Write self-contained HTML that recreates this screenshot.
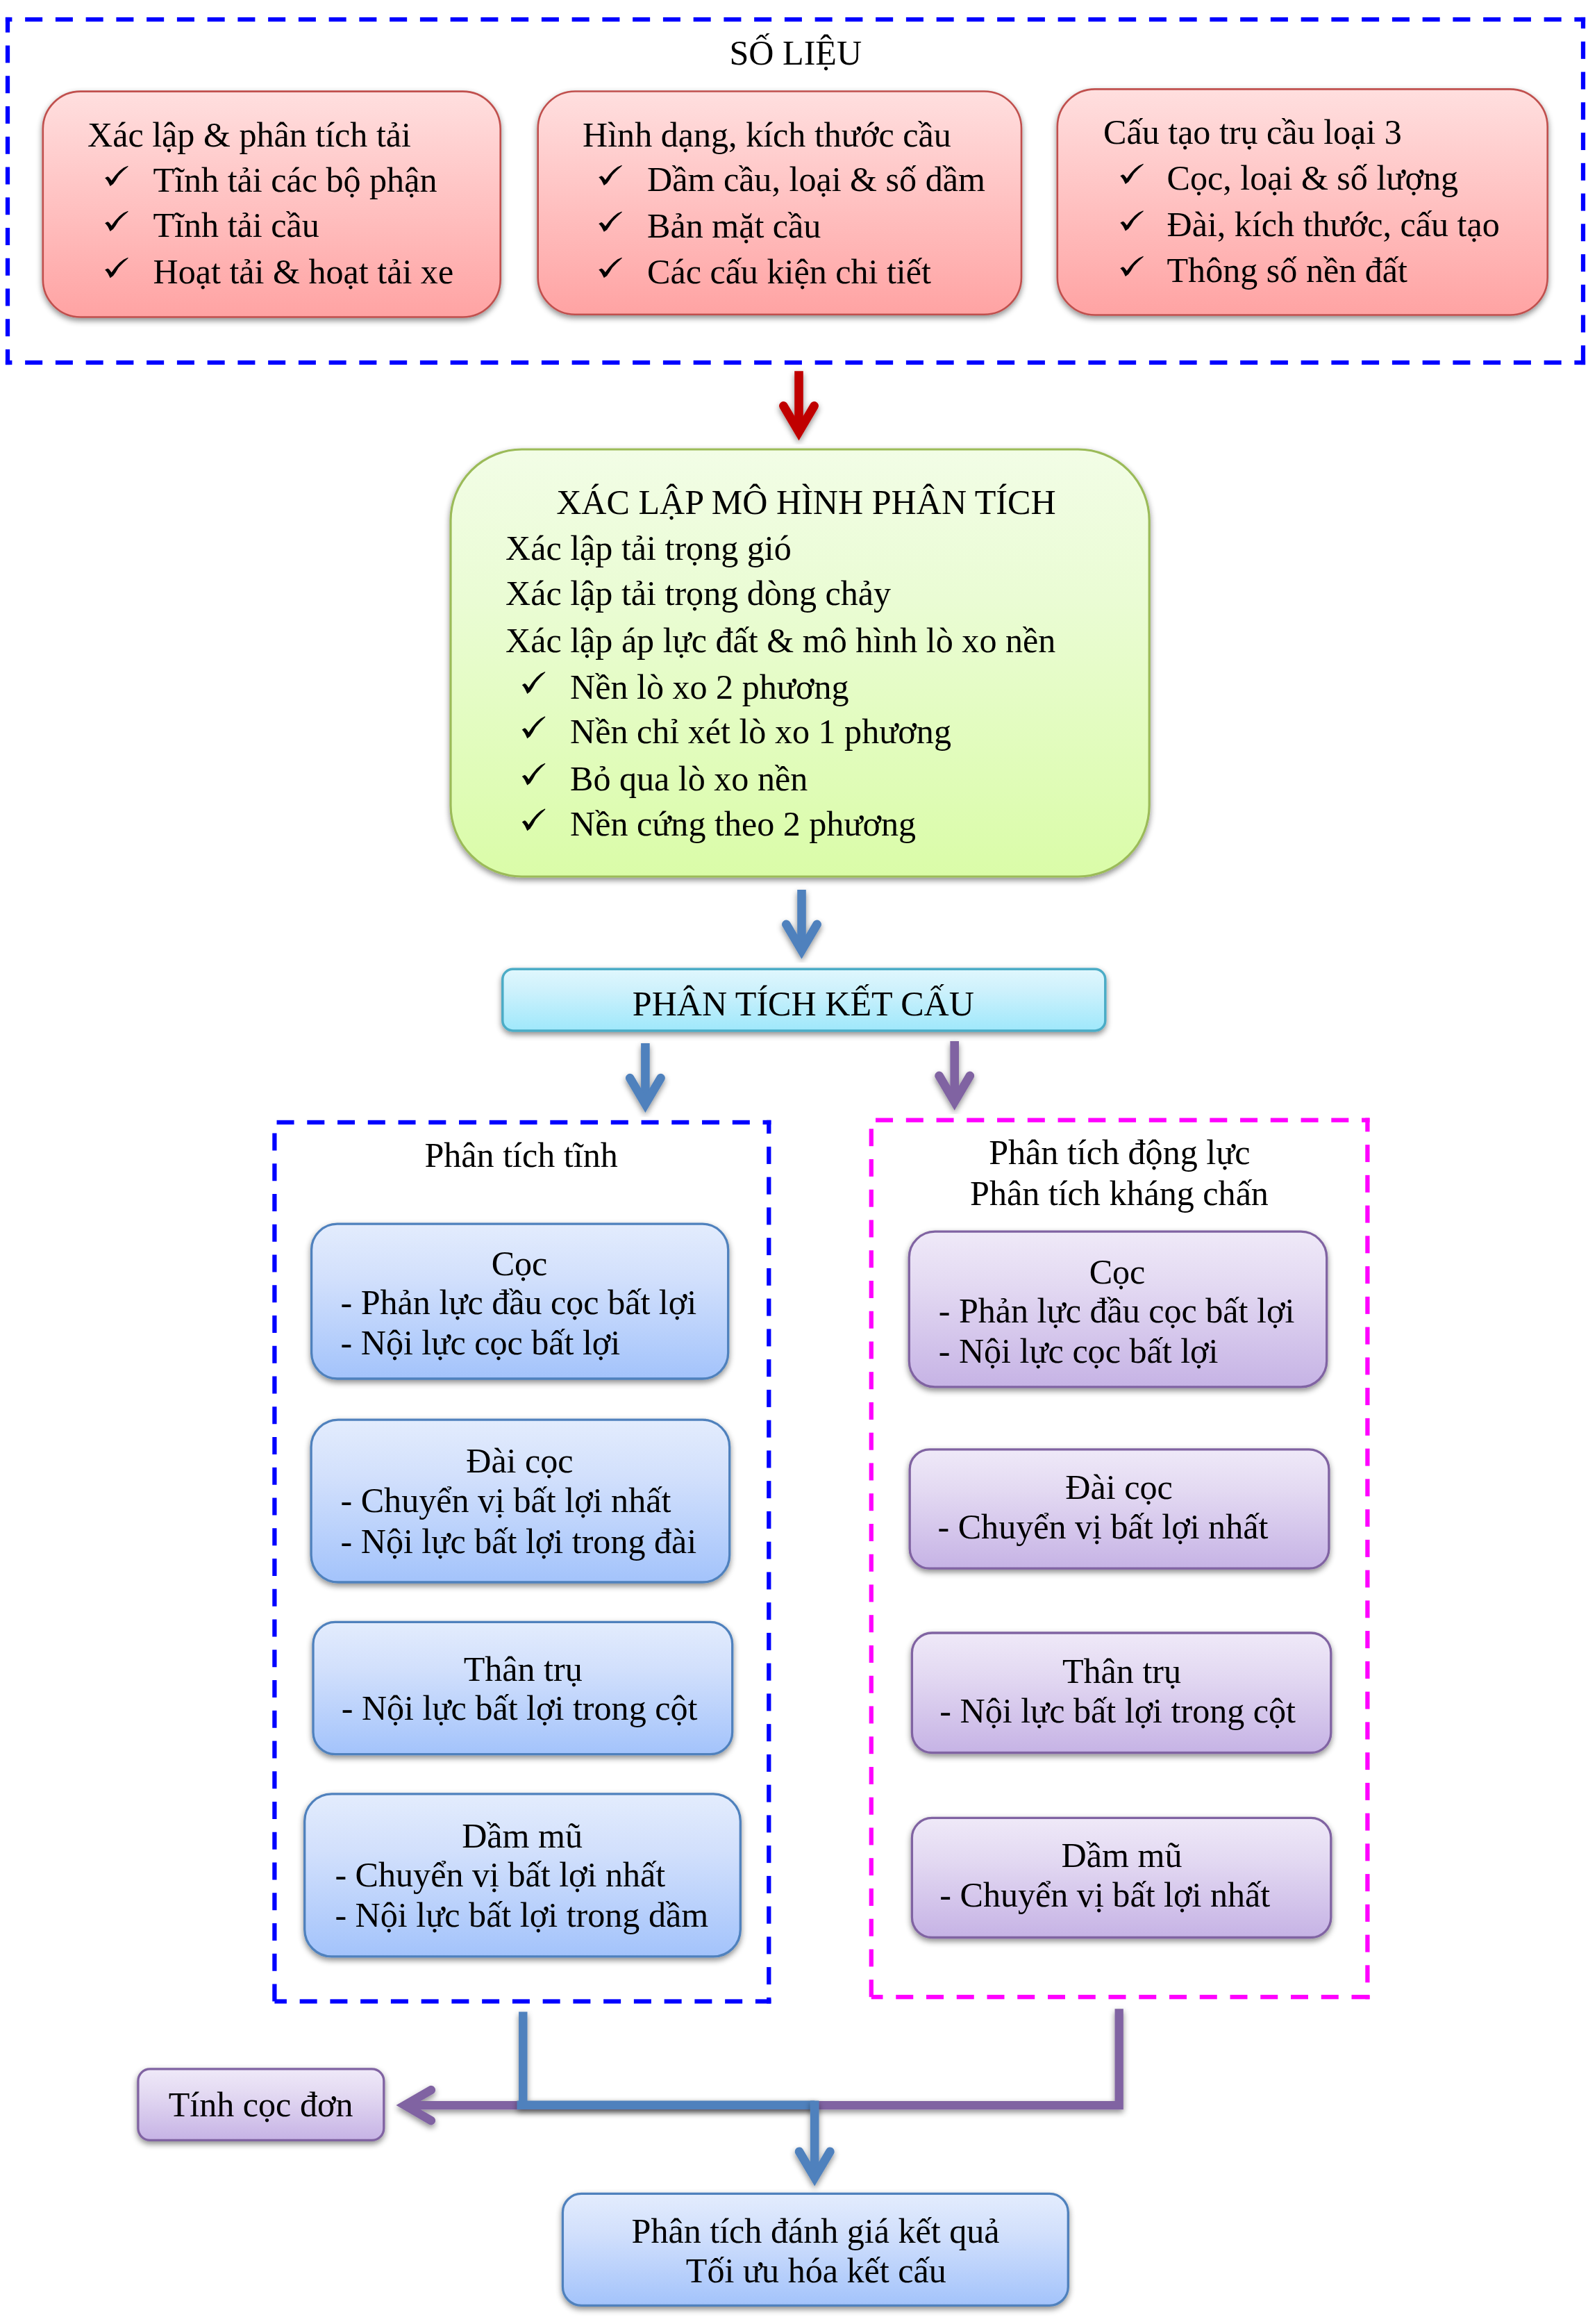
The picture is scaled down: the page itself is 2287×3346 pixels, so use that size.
<!DOCTYPE html><html><head><meta charset="utf-8"><title>diagram</title><style>
html,body{margin:0;padding:0;background:#fff;overflow:hidden}svg{display:block}
text{font-family:"Liberation Serif",serif;font-size:50.1px;fill:#000}
</style></head><body>
<svg width="2287" height="3346" viewBox="0 0 2287 3346">
<defs>
<linearGradient id="gr" x1="0" y1="0" x2="0" y2="1">
<stop offset="0" stop-color="#ffdfdf"/>
<stop offset="0.35" stop-color="#ffcaca"/>
<stop offset="1" stop-color="#ffa3a3"/>
</linearGradient>
<linearGradient id="gg" x1="0" y1="0" x2="0" y2="1">
<stop offset="0" stop-color="#f2fde6"/>
<stop offset="0.35" stop-color="#eafcd4"/>
<stop offset="1" stop-color="#dafca8"/>
</linearGradient>
<linearGradient id="gc" x1="0" y1="0" x2="0" y2="1">
<stop offset="0" stop-color="#e0f7fd"/>
<stop offset="0.35" stop-color="#cdf1fc"/>
<stop offset="1" stop-color="#9fe8fb"/>
</linearGradient>
<linearGradient id="gb" x1="0" y1="0" x2="0" y2="1">
<stop offset="0" stop-color="#e3ecfd"/>
<stop offset="0.35" stop-color="#d2e0fc"/>
<stop offset="1" stop-color="#a3c3fb"/>
</linearGradient>
<linearGradient id="gp" x1="0" y1="0" x2="0" y2="1">
<stop offset="0" stop-color="#efe9f8"/>
<stop offset="0.35" stop-color="#e3d9f2"/>
<stop offset="1" stop-color="#c6b3e5"/>
</linearGradient>
<filter id="sh" x="-10%" y="-10%" width="120%" height="130%"><feDropShadow dx="0" dy="4" stdDeviation="4.5" flood-color="#000" flood-opacity="0.45"/></filter>
<filter id="ash" x="-50%" y="-10%" width="200%" height="130%"><feDropShadow dx="0" dy="4" stdDeviation="4.5" flood-color="#000" flood-opacity="0.45"/></filter>
<filter id="lsh" x="-5%" y="-100%" width="110%" height="400%"><feDropShadow dx="0" dy="4" stdDeviation="4.5" flood-color="#000" flood-opacity="0.45"/></filter>
</defs>
<rect width="2287" height="3346" fill="#fff"/>
<g fill="#0000ff"><rect x="7.88" y="24.88" width="9.52" height="6.25"/><rect x="36.15" y="24.88" width="25" height="6.25"/><rect x="79.9" y="24.88" width="25" height="6.25"/><rect x="123.65" y="24.88" width="25" height="6.25"/><rect x="167.4" y="24.88" width="25" height="6.25"/><rect x="211.15" y="24.88" width="25" height="6.25"/><rect x="254.9" y="24.88" width="25" height="6.25"/><rect x="298.65" y="24.88" width="25" height="6.25"/><rect x="342.4" y="24.88" width="25" height="6.25"/><rect x="386.15" y="24.88" width="25" height="6.25"/><rect x="429.9" y="24.88" width="25" height="6.25"/><rect x="473.65" y="24.88" width="25" height="6.25"/><rect x="517.4" y="24.88" width="25" height="6.25"/><rect x="561.15" y="24.88" width="25" height="6.25"/><rect x="604.9" y="24.88" width="25" height="6.25"/><rect x="648.65" y="24.88" width="25" height="6.25"/><rect x="692.4" y="24.88" width="25" height="6.25"/><rect x="736.15" y="24.88" width="25" height="6.25"/><rect x="779.9" y="24.88" width="25" height="6.25"/><rect x="823.65" y="24.88" width="25" height="6.25"/><rect x="867.4" y="24.88" width="25" height="6.25"/><rect x="911.15" y="24.88" width="25" height="6.25"/><rect x="954.9" y="24.88" width="25" height="6.25"/><rect x="998.65" y="24.88" width="25" height="6.25"/><rect x="1042.4" y="24.88" width="25" height="6.25"/><rect x="1086.15" y="24.88" width="25" height="6.25"/><rect x="1129.9" y="24.88" width="25" height="6.25"/><rect x="1173.65" y="24.88" width="25" height="6.25"/><rect x="1217.4" y="24.88" width="25" height="6.25"/><rect x="1261.15" y="24.88" width="25" height="6.25"/><rect x="1304.9" y="24.88" width="25" height="6.25"/><rect x="1348.65" y="24.88" width="25" height="6.25"/><rect x="1392.4" y="24.88" width="25" height="6.25"/><rect x="1436.15" y="24.88" width="25" height="6.25"/><rect x="1479.9" y="24.88" width="25" height="6.25"/><rect x="1523.65" y="24.88" width="25" height="6.25"/><rect x="1567.4" y="24.88" width="25" height="6.25"/><rect x="1611.15" y="24.88" width="25" height="6.25"/><rect x="1654.9" y="24.88" width="25" height="6.25"/><rect x="1698.65" y="24.88" width="25" height="6.25"/><rect x="1742.4" y="24.88" width="25" height="6.25"/><rect x="1786.15" y="24.88" width="25" height="6.25"/><rect x="1829.9" y="24.88" width="25" height="6.25"/><rect x="1873.65" y="24.88" width="25" height="6.25"/><rect x="1917.4" y="24.88" width="25" height="6.25"/><rect x="1961.15" y="24.88" width="25" height="6.25"/><rect x="2004.9" y="24.88" width="25" height="6.25"/><rect x="2048.65" y="24.88" width="25" height="6.25"/><rect x="2092.4" y="24.88" width="25" height="6.25"/><rect x="2136.15" y="24.88" width="25" height="6.25"/><rect x="2179.9" y="24.88" width="25" height="6.25"/><rect x="2223.65" y="24.88" width="25" height="6.25"/><rect x="2267.4" y="24.88" width="15.72" height="6.25"/><rect x="7.88" y="518.88" width="9.52" height="6.25"/><rect x="36.15" y="518.88" width="25" height="6.25"/><rect x="79.9" y="518.88" width="25" height="6.25"/><rect x="123.65" y="518.88" width="25" height="6.25"/><rect x="167.4" y="518.88" width="25" height="6.25"/><rect x="211.15" y="518.88" width="25" height="6.25"/><rect x="254.9" y="518.88" width="25" height="6.25"/><rect x="298.65" y="518.88" width="25" height="6.25"/><rect x="342.4" y="518.88" width="25" height="6.25"/><rect x="386.15" y="518.88" width="25" height="6.25"/><rect x="429.9" y="518.88" width="25" height="6.25"/><rect x="473.65" y="518.88" width="25" height="6.25"/><rect x="517.4" y="518.88" width="25" height="6.25"/><rect x="561.15" y="518.88" width="25" height="6.25"/><rect x="604.9" y="518.88" width="25" height="6.25"/><rect x="648.65" y="518.88" width="25" height="6.25"/><rect x="692.4" y="518.88" width="25" height="6.25"/><rect x="736.15" y="518.88" width="25" height="6.25"/><rect x="779.9" y="518.88" width="25" height="6.25"/><rect x="823.65" y="518.88" width="25" height="6.25"/><rect x="867.4" y="518.88" width="25" height="6.25"/><rect x="911.15" y="518.88" width="25" height="6.25"/><rect x="954.9" y="518.88" width="25" height="6.25"/><rect x="998.65" y="518.88" width="25" height="6.25"/><rect x="1042.4" y="518.88" width="25" height="6.25"/><rect x="1086.15" y="518.88" width="25" height="6.25"/><rect x="1129.9" y="518.88" width="25" height="6.25"/><rect x="1173.65" y="518.88" width="25" height="6.25"/><rect x="1217.4" y="518.88" width="25" height="6.25"/><rect x="1261.15" y="518.88" width="25" height="6.25"/><rect x="1304.9" y="518.88" width="25" height="6.25"/><rect x="1348.65" y="518.88" width="25" height="6.25"/><rect x="1392.4" y="518.88" width="25" height="6.25"/><rect x="1436.15" y="518.88" width="25" height="6.25"/><rect x="1479.9" y="518.88" width="25" height="6.25"/><rect x="1523.65" y="518.88" width="25" height="6.25"/><rect x="1567.4" y="518.88" width="25" height="6.25"/><rect x="1611.15" y="518.88" width="25" height="6.25"/><rect x="1654.9" y="518.88" width="25" height="6.25"/><rect x="1698.65" y="518.88" width="25" height="6.25"/><rect x="1742.4" y="518.88" width="25" height="6.25"/><rect x="1786.15" y="518.88" width="25" height="6.25"/><rect x="1829.9" y="518.88" width="25" height="6.25"/><rect x="1873.65" y="518.88" width="25" height="6.25"/><rect x="1917.4" y="518.88" width="25" height="6.25"/><rect x="1961.15" y="518.88" width="25" height="6.25"/><rect x="2004.9" y="518.88" width="25" height="6.25"/><rect x="2048.65" y="518.88" width="25" height="6.25"/><rect x="2092.4" y="518.88" width="25" height="6.25"/><rect x="2136.15" y="518.88" width="25" height="6.25"/><rect x="2179.9" y="518.88" width="25" height="6.25"/><rect x="2223.65" y="518.88" width="25" height="6.25"/><rect x="2267.4" y="518.88" width="15.72" height="6.25"/><rect x="7.88" y="24.88" width="6.25" height="21.88"/><rect x="7.88" y="65.5" width="6.25" height="25"/><rect x="7.88" y="109.25" width="6.25" height="25"/><rect x="7.88" y="153" width="6.25" height="25"/><rect x="7.88" y="196.75" width="6.25" height="25"/><rect x="7.88" y="240.5" width="6.25" height="25"/><rect x="7.88" y="284.25" width="6.25" height="25"/><rect x="7.88" y="328" width="6.25" height="25"/><rect x="7.88" y="371.75" width="6.25" height="25"/><rect x="7.88" y="415.5" width="6.25" height="25"/><rect x="7.88" y="459.25" width="6.25" height="25"/><rect x="7.88" y="503" width="6.25" height="22.12"/><rect x="2276.88" y="24.88" width="6.25" height="16.17"/><rect x="2276.88" y="59.8" width="6.25" height="25"/><rect x="2276.88" y="103.55" width="6.25" height="25"/><rect x="2276.88" y="147.3" width="6.25" height="25"/><rect x="2276.88" y="191.05" width="6.25" height="25"/><rect x="2276.88" y="234.8" width="6.25" height="25"/><rect x="2276.88" y="278.55" width="6.25" height="25"/><rect x="2276.88" y="322.3" width="6.25" height="25"/><rect x="2276.88" y="366.05" width="6.25" height="25"/><rect x="2276.88" y="409.8" width="6.25" height="25"/><rect x="2276.88" y="453.55" width="6.25" height="25"/><rect x="2276.88" y="497.3" width="6.25" height="27.82"/></g>
<text x="1145.8" y="93.3" text-anchor="middle">SỐ LIỆU</text>
<rect x="61.8" y="131.6" width="658.9" height="324.9" rx="54.15" ry="54.15" fill="url(#gr)" stroke="#c0504d" stroke-width="2.6" filter="url(#sh)"/>
<rect x="774.7" y="131.5" width="696.3" height="321.3" rx="53.55" ry="53.55" fill="url(#gr)" stroke="#c0504d" stroke-width="2.6" filter="url(#sh)"/>
<rect x="1522.8" y="128.4" width="705.9" height="325.1" rx="54.18" ry="54.18" fill="url(#gr)" stroke="#c0504d" stroke-width="2.6" filter="url(#sh)"/>
<text x="126" y="210.5">Xác lập &amp; phân tích tải</text>
<path transform="translate(151 256.5) scale(1 0.92)" d="M0 0 L2.3 -1.6 L4.3 -2.4 L6.4 -0.7 L8.1 1.6 L9.6 3.8 L14.7 -3.7 L21.2 -11.3 L27 -16.3 L33.3 -19.4 L33.6 -18.3 L26.5 -11.3 L19.7 -3.7 L15.5 3.8 L12.9 7.6 L12.1 9.1 L7.6 12.5 L6.1 9.1 L4.2 5 L1.5 1.2 Z" fill="#000"/>
<text x="220.5" y="275.8">Tĩnh tải các bộ phận</text>
<path transform="translate(151 321.5) scale(1 0.92)" d="M0 0 L2.3 -1.6 L4.3 -2.4 L6.4 -0.7 L8.1 1.6 L9.6 3.8 L14.7 -3.7 L21.2 -11.3 L27 -16.3 L33.3 -19.4 L33.6 -18.3 L26.5 -11.3 L19.7 -3.7 L15.5 3.8 L12.9 7.6 L12.1 9.1 L7.6 12.5 L6.1 9.1 L4.2 5 L1.5 1.2 Z" fill="#000"/>
<text x="220.5" y="340.8">Tĩnh tải cầu</text>
<path transform="translate(151 388.7) scale(1 0.92)" d="M0 0 L2.3 -1.6 L4.3 -2.4 L6.4 -0.7 L8.1 1.6 L9.6 3.8 L14.7 -3.7 L21.2 -11.3 L27 -16.3 L33.3 -19.4 L33.6 -18.3 L26.5 -11.3 L19.7 -3.7 L15.5 3.8 L12.9 7.6 L12.1 9.1 L7.6 12.5 L6.1 9.1 L4.2 5 L1.5 1.2 Z" fill="#000"/>
<text x="220.5" y="408">Hoạt tải &amp; hoạt tải xe</text>
<text x="839" y="210.6">Hình dạng, kích thước cầu</text>
<path transform="translate(862.2 255.5) scale(1 0.92)" d="M0 0 L2.3 -1.6 L4.3 -2.4 L6.4 -0.7 L8.1 1.6 L9.6 3.8 L14.7 -3.7 L21.2 -11.3 L27 -16.3 L33.3 -19.4 L33.6 -18.3 L26.5 -11.3 L19.7 -3.7 L15.5 3.8 L12.9 7.6 L12.1 9.1 L7.6 12.5 L6.1 9.1 L4.2 5 L1.5 1.2 Z" fill="#000"/>
<text x="932" y="274.8">Dầm cầu, loại &amp; số dầm</text>
<path transform="translate(862.2 322.3) scale(1 0.92)" d="M0 0 L2.3 -1.6 L4.3 -2.4 L6.4 -0.7 L8.1 1.6 L9.6 3.8 L14.7 -3.7 L21.2 -11.3 L27 -16.3 L33.3 -19.4 L33.6 -18.3 L26.5 -11.3 L19.7 -3.7 L15.5 3.8 L12.9 7.6 L12.1 9.1 L7.6 12.5 L6.1 9.1 L4.2 5 L1.5 1.2 Z" fill="#000"/>
<text x="932" y="341.6">Bản mặt cầu</text>
<path transform="translate(862.2 388.6) scale(1 0.92)" d="M0 0 L2.3 -1.6 L4.3 -2.4 L6.4 -0.7 L8.1 1.6 L9.6 3.8 L14.7 -3.7 L21.2 -11.3 L27 -16.3 L33.3 -19.4 L33.6 -18.3 L26.5 -11.3 L19.7 -3.7 L15.5 3.8 L12.9 7.6 L12.1 9.1 L7.6 12.5 L6.1 9.1 L4.2 5 L1.5 1.2 Z" fill="#000"/>
<text x="932" y="407.9">Các cấu kiện chi tiết</text>
<text x="1589" y="207.3">Cấu tạo trụ cầu loại 3</text>
<path transform="translate(1613.2 253.5) scale(1 0.92)" d="M0 0 L2.3 -1.6 L4.3 -2.4 L6.4 -0.7 L8.1 1.6 L9.6 3.8 L14.7 -3.7 L21.2 -11.3 L27 -16.3 L33.3 -19.4 L33.6 -18.3 L26.5 -11.3 L19.7 -3.7 L15.5 3.8 L12.9 7.6 L12.1 9.1 L7.6 12.5 L6.1 9.1 L4.2 5 L1.5 1.2 Z" fill="#000"/>
<text x="1680.5" y="272.8">Cọc, loại &amp; số lượng</text>
<path transform="translate(1613.2 321) scale(1 0.92)" d="M0 0 L2.3 -1.6 L4.3 -2.4 L6.4 -0.7 L8.1 1.6 L9.6 3.8 L14.7 -3.7 L21.2 -11.3 L27 -16.3 L33.3 -19.4 L33.6 -18.3 L26.5 -11.3 L19.7 -3.7 L15.5 3.8 L12.9 7.6 L12.1 9.1 L7.6 12.5 L6.1 9.1 L4.2 5 L1.5 1.2 Z" fill="#000"/>
<text x="1680.5" y="340.3">Đài, kích thước, cấu tạo</text>
<path transform="translate(1613.2 386.5) scale(1 0.92)" d="M0 0 L2.3 -1.6 L4.3 -2.4 L6.4 -0.7 L8.1 1.6 L9.6 3.8 L14.7 -3.7 L21.2 -11.3 L27 -16.3 L33.3 -19.4 L33.6 -18.3 L26.5 -11.3 L19.7 -3.7 L15.5 3.8 L12.9 7.6 L12.1 9.1 L7.6 12.5 L6.1 9.1 L4.2 5 L1.5 1.2 Z" fill="#000"/>
<text x="1680.5" y="405.8">Thông số nền đất</text>
<g filter="url(#ash)" stroke="#c00000" fill="none" stroke-width="12.6">
<path d="M1150.5 534.2 V615.78" stroke-linecap="butt"/>
<path d="M1128.3 584.3 L1150.5 621.78 L1172.7 584.3" stroke-linecap="round" stroke-linejoin="miter" stroke-miterlimit="10"/>
</g>
<rect x="649" y="647" width="1006.2" height="615" rx="102.5" ry="102.5" fill="url(#gg)" stroke="#9bbb59" stroke-width="3.2" filter="url(#sh)"/>
<text x="1160.9" y="739.5" text-anchor="middle">XÁC LẬP MÔ HÌNH PHÂN TÍCH</text>
<text x="728" y="805.7">Xác lập tải trọng gió</text>
<text x="728" y="871.2">Xác lập tải trọng dòng chảy</text>
<text x="728" y="938.6">Xác lập áp lực đất &amp; mô hình lò xo nền</text>
<path transform="translate(751.7 986.4)" d="M0 0 L2.3 -1.6 L4.3 -2.4 L6.4 -0.7 L8.1 1.6 L9.6 3.8 L14.7 -3.7 L21.2 -11.3 L27 -16.3 L33.3 -19.4 L33.6 -18.3 L26.5 -11.3 L19.7 -3.7 L15.5 3.8 L12.9 7.6 L12.1 9.1 L7.6 12.5 L6.1 9.1 L4.2 5 L1.5 1.2 Z" fill="#000"/>
<text x="821" y="1006">Nền lò xo 2 phương</text>
<path transform="translate(751.7 1050.7)" d="M0 0 L2.3 -1.6 L4.3 -2.4 L6.4 -0.7 L8.1 1.6 L9.6 3.8 L14.7 -3.7 L21.2 -11.3 L27 -16.3 L33.3 -19.4 L33.6 -18.3 L26.5 -11.3 L19.7 -3.7 L15.5 3.8 L12.9 7.6 L12.1 9.1 L7.6 12.5 L6.1 9.1 L4.2 5 L1.5 1.2 Z" fill="#000"/>
<text x="821" y="1070.3">Nền chỉ xét lò xo 1 phương</text>
<path transform="translate(751.7 1118.1)" d="M0 0 L2.3 -1.6 L4.3 -2.4 L6.4 -0.7 L8.1 1.6 L9.6 3.8 L14.7 -3.7 L21.2 -11.3 L27 -16.3 L33.3 -19.4 L33.6 -18.3 L26.5 -11.3 L19.7 -3.7 L15.5 3.8 L12.9 7.6 L12.1 9.1 L7.6 12.5 L6.1 9.1 L4.2 5 L1.5 1.2 Z" fill="#000"/>
<text x="821" y="1137.7">Bỏ qua lò xo nền</text>
<path transform="translate(751.7 1183.7)" d="M0 0 L2.3 -1.6 L4.3 -2.4 L6.4 -0.7 L8.1 1.6 L9.6 3.8 L14.7 -3.7 L21.2 -11.3 L27 -16.3 L33.3 -19.4 L33.6 -18.3 L26.5 -11.3 L19.7 -3.7 L15.5 3.8 L12.9 7.6 L12.1 9.1 L7.6 12.5 L6.1 9.1 L4.2 5 L1.5 1.2 Z" fill="#000"/>
<text x="821" y="1203.3">Nền cứng theo 2 phương</text>
<g filter="url(#ash)" stroke="#4f81bd" fill="none" stroke-width="12.6">
<path d="M1154.5 1281.1 V1362.28" stroke-linecap="butt"/>
<path d="M1132.3 1330.8 L1154.5 1368.28 L1176.7 1330.8" stroke-linecap="round" stroke-linejoin="miter" stroke-miterlimit="10"/>
</g>
<rect x="723.8" y="1395.3" width="868" height="88.6" rx="14.77" ry="14.77" fill="url(#gc)" stroke="#4bacc6" stroke-width="3.5" filter="url(#sh)"/>
<text x="1156.9" y="1461.6" text-anchor="middle">PHÂN TÍCH KẾT CẤU</text>
<g filter="url(#ash)" stroke="#4f81bd" fill="none" stroke-width="12.6">
<path d="M929.4 1501.9 V1583.58" stroke-linecap="butt"/>
<path d="M907.2 1552.1 L929.4 1589.58 L951.6 1552.1" stroke-linecap="round" stroke-linejoin="miter" stroke-miterlimit="10"/>
</g>
<g filter="url(#ash)" stroke="#8064a2" fill="none" stroke-width="12.6">
<path d="M1374.7 1498.9 V1580.28" stroke-linecap="butt"/>
<path d="M1352.5 1548.8 L1374.7 1586.28 L1396.9 1548.8" stroke-linecap="round" stroke-linejoin="miter" stroke-miterlimit="10"/>
</g>
<g fill="#0000ff"><rect x="392.27" y="2856.5" width="6.25" height="25"/><rect x="392.27" y="2812.75" width="6.25" height="25"/><rect x="392.27" y="2769" width="6.25" height="25"/><rect x="392.27" y="2725.25" width="6.25" height="25"/><rect x="392.27" y="2681.5" width="6.25" height="25"/><rect x="392.27" y="2637.75" width="6.25" height="25"/><rect x="392.27" y="2594" width="6.25" height="25"/><rect x="392.27" y="2550.25" width="6.25" height="25"/><rect x="392.27" y="2506.5" width="6.25" height="25"/><rect x="392.27" y="2462.75" width="6.25" height="25"/><rect x="392.27" y="2419" width="6.25" height="25"/><rect x="392.27" y="2375.25" width="6.25" height="25"/><rect x="392.27" y="2331.5" width="6.25" height="25"/><rect x="392.27" y="2287.75" width="6.25" height="25"/><rect x="392.27" y="2244" width="6.25" height="25"/><rect x="392.27" y="2200.25" width="6.25" height="25"/><rect x="392.27" y="2156.5" width="6.25" height="25"/><rect x="392.27" y="2112.75" width="6.25" height="25"/><rect x="392.27" y="2069" width="6.25" height="25"/><rect x="392.27" y="2025.25" width="6.25" height="25"/><rect x="392.27" y="1981.5" width="6.25" height="25"/><rect x="392.27" y="1937.75" width="6.25" height="25"/><rect x="392.27" y="1894" width="6.25" height="25"/><rect x="392.27" y="1850.25" width="6.25" height="25"/><rect x="392.27" y="1806.5" width="6.25" height="25"/><rect x="392.27" y="1762.75" width="6.25" height="25"/><rect x="392.27" y="1719" width="6.25" height="25"/><rect x="392.27" y="1675.25" width="6.25" height="25"/><rect x="392.27" y="1631.5" width="6.25" height="25"/><rect x="398.55" y="1612.78" width="25" height="6.25"/><rect x="442.3" y="1612.78" width="25" height="6.25"/><rect x="486.05" y="1612.78" width="25" height="6.25"/><rect x="529.8" y="1612.78" width="25" height="6.25"/><rect x="573.55" y="1612.78" width="25" height="6.25"/><rect x="617.3" y="1612.78" width="25" height="6.25"/><rect x="661.05" y="1612.78" width="25" height="6.25"/><rect x="704.8" y="1612.78" width="25" height="6.25"/><rect x="748.55" y="1612.78" width="25" height="6.25"/><rect x="792.3" y="1612.78" width="25" height="6.25"/><rect x="836.05" y="1612.78" width="25" height="6.25"/><rect x="879.8" y="1612.78" width="25" height="6.25"/><rect x="923.55" y="1612.78" width="25" height="6.25"/><rect x="967.3" y="1612.78" width="25" height="6.25"/><rect x="1011.05" y="1612.78" width="25" height="6.25"/><rect x="1054.8" y="1612.78" width="25" height="6.25"/><rect x="1098.55" y="1612.78" width="11.87" height="6.25"/><rect x="1104.17" y="1612.78" width="6.25" height="19.38"/><rect x="1104.17" y="1650.9" width="6.25" height="25"/><rect x="1104.17" y="1694.65" width="6.25" height="25"/><rect x="1104.17" y="1738.4" width="6.25" height="25"/><rect x="1104.17" y="1782.15" width="6.25" height="25"/><rect x="1104.17" y="1825.9" width="6.25" height="25"/><rect x="1104.17" y="1869.65" width="6.25" height="25"/><rect x="1104.17" y="1913.4" width="6.25" height="25"/><rect x="1104.17" y="1957.15" width="6.25" height="25"/><rect x="1104.17" y="2000.9" width="6.25" height="25"/><rect x="1104.17" y="2044.65" width="6.25" height="25"/><rect x="1104.17" y="2088.4" width="6.25" height="25"/><rect x="1104.17" y="2132.15" width="6.25" height="25"/><rect x="1104.17" y="2175.9" width="6.25" height="25"/><rect x="1104.17" y="2219.65" width="6.25" height="25"/><rect x="1104.17" y="2263.4" width="6.25" height="25"/><rect x="1104.17" y="2307.15" width="6.25" height="25"/><rect x="1104.17" y="2350.9" width="6.25" height="25"/><rect x="1104.17" y="2394.65" width="6.25" height="25"/><rect x="1104.17" y="2438.4" width="6.25" height="25"/><rect x="1104.17" y="2482.15" width="6.25" height="25"/><rect x="1104.17" y="2525.9" width="6.25" height="25"/><rect x="1104.17" y="2569.65" width="6.25" height="25"/><rect x="1104.17" y="2613.4" width="6.25" height="25"/><rect x="1104.17" y="2657.15" width="6.25" height="25"/><rect x="1104.17" y="2700.9" width="6.25" height="25"/><rect x="1104.17" y="2744.65" width="6.25" height="25"/><rect x="1104.17" y="2788.4" width="6.25" height="25"/><rect x="1104.17" y="2832.15" width="6.25" height="25"/><rect x="1104.17" y="2875.9" width="6.25" height="8.72"/><rect x="1087.9" y="2878.38" width="22.53" height="6.25"/><rect x="1044.15" y="2878.38" width="25" height="6.25"/><rect x="1000.4" y="2878.38" width="25" height="6.25"/><rect x="956.65" y="2878.38" width="25" height="6.25"/><rect x="912.9" y="2878.38" width="25" height="6.25"/><rect x="869.15" y="2878.38" width="25" height="6.25"/><rect x="825.4" y="2878.38" width="25" height="6.25"/><rect x="781.65" y="2878.38" width="25" height="6.25"/><rect x="737.9" y="2878.38" width="25" height="6.25"/><rect x="694.15" y="2878.38" width="25" height="6.25"/><rect x="650.4" y="2878.38" width="25" height="6.25"/><rect x="606.65" y="2878.38" width="25" height="6.25"/><rect x="562.9" y="2878.38" width="25" height="6.25"/><rect x="519.15" y="2878.38" width="25" height="6.25"/><rect x="475.4" y="2878.38" width="25" height="6.25"/><rect x="431.65" y="2878.38" width="25" height="6.25"/><rect x="395.4" y="2878.38" width="17.5" height="6.25"/></g>
<g fill="#ff00ff"><rect x="1251.67" y="2850.2" width="6.25" height="25"/><rect x="1251.67" y="2806.45" width="6.25" height="25"/><rect x="1251.67" y="2762.7" width="6.25" height="25"/><rect x="1251.67" y="2718.95" width="6.25" height="25"/><rect x="1251.67" y="2675.2" width="6.25" height="25"/><rect x="1251.67" y="2631.45" width="6.25" height="25"/><rect x="1251.67" y="2587.7" width="6.25" height="25"/><rect x="1251.67" y="2543.95" width="6.25" height="25"/><rect x="1251.67" y="2500.2" width="6.25" height="25"/><rect x="1251.67" y="2456.45" width="6.25" height="25"/><rect x="1251.67" y="2412.7" width="6.25" height="25"/><rect x="1251.67" y="2368.95" width="6.25" height="25"/><rect x="1251.67" y="2325.2" width="6.25" height="25"/><rect x="1251.67" y="2281.45" width="6.25" height="25"/><rect x="1251.67" y="2237.7" width="6.25" height="25"/><rect x="1251.67" y="2193.95" width="6.25" height="25"/><rect x="1251.67" y="2150.2" width="6.25" height="25"/><rect x="1251.67" y="2106.45" width="6.25" height="25"/><rect x="1251.67" y="2062.7" width="6.25" height="25"/><rect x="1251.67" y="2018.95" width="6.25" height="25"/><rect x="1251.67" y="1975.2" width="6.25" height="25"/><rect x="1251.67" y="1931.45" width="6.25" height="25"/><rect x="1251.67" y="1887.7" width="6.25" height="25"/><rect x="1251.67" y="1843.95" width="6.25" height="25"/><rect x="1251.67" y="1800.2" width="6.25" height="25"/><rect x="1251.67" y="1756.45" width="6.25" height="25"/><rect x="1251.67" y="1712.7" width="6.25" height="25"/><rect x="1251.67" y="1668.95" width="6.25" height="25"/><rect x="1251.67" y="1625.2" width="6.25" height="25"/><rect x="1261.05" y="1609.58" width="25" height="6.25"/><rect x="1304.8" y="1609.58" width="25" height="6.25"/><rect x="1348.55" y="1609.58" width="25" height="6.25"/><rect x="1392.3" y="1609.58" width="25" height="6.25"/><rect x="1436.05" y="1609.58" width="25" height="6.25"/><rect x="1479.8" y="1609.58" width="25" height="6.25"/><rect x="1523.55" y="1609.58" width="25" height="6.25"/><rect x="1567.3" y="1609.58" width="25" height="6.25"/><rect x="1611.05" y="1609.58" width="25" height="6.25"/><rect x="1654.8" y="1609.58" width="25" height="6.25"/><rect x="1698.55" y="1609.58" width="25" height="6.25"/><rect x="1742.3" y="1609.58" width="25" height="6.25"/><rect x="1786.05" y="1609.58" width="25" height="6.25"/><rect x="1829.8" y="1609.58" width="25" height="6.25"/><rect x="1873.55" y="1609.58" width="25" height="6.25"/><rect x="1917.3" y="1609.58" width="25" height="6.25"/><rect x="1961.05" y="1609.58" width="11.47" height="6.25"/><rect x="1966.28" y="1609.58" width="6.25" height="19.78"/><rect x="1966.28" y="1648.1" width="6.25" height="25"/><rect x="1966.28" y="1691.85" width="6.25" height="25"/><rect x="1966.28" y="1735.6" width="6.25" height="25"/><rect x="1966.28" y="1779.35" width="6.25" height="25"/><rect x="1966.28" y="1823.1" width="6.25" height="25"/><rect x="1966.28" y="1866.85" width="6.25" height="25"/><rect x="1966.28" y="1910.6" width="6.25" height="25"/><rect x="1966.28" y="1954.35" width="6.25" height="25"/><rect x="1966.28" y="1998.1" width="6.25" height="25"/><rect x="1966.28" y="2041.85" width="6.25" height="25"/><rect x="1966.28" y="2085.6" width="6.25" height="25"/><rect x="1966.28" y="2129.35" width="6.25" height="25"/><rect x="1966.28" y="2173.1" width="6.25" height="25"/><rect x="1966.28" y="2216.85" width="6.25" height="25"/><rect x="1966.28" y="2260.6" width="6.25" height="25"/><rect x="1966.28" y="2304.35" width="6.25" height="25"/><rect x="1966.28" y="2348.1" width="6.25" height="25"/><rect x="1966.28" y="2391.85" width="6.25" height="25"/><rect x="1966.28" y="2435.6" width="6.25" height="25"/><rect x="1966.28" y="2479.35" width="6.25" height="25"/><rect x="1966.28" y="2523.1" width="6.25" height="25"/><rect x="1966.28" y="2566.85" width="6.25" height="25"/><rect x="1966.28" y="2610.6" width="6.25" height="25"/><rect x="1966.28" y="2654.35" width="6.25" height="25"/><rect x="1966.28" y="2698.1" width="6.25" height="25"/><rect x="1966.28" y="2741.85" width="6.25" height="25"/><rect x="1966.28" y="2785.6" width="6.25" height="25"/><rect x="1966.28" y="2829.35" width="6.25" height="25"/><rect x="1966.28" y="2873.1" width="6.25" height="5.22"/><rect x="1946.5" y="2872.07" width="26.03" height="6.25"/><rect x="1902.75" y="2872.07" width="25" height="6.25"/><rect x="1859" y="2872.07" width="25" height="6.25"/><rect x="1815.25" y="2872.07" width="25" height="6.25"/><rect x="1771.5" y="2872.07" width="25" height="6.25"/><rect x="1727.75" y="2872.07" width="25" height="6.25"/><rect x="1684" y="2872.07" width="25" height="6.25"/><rect x="1640.25" y="2872.07" width="25" height="6.25"/><rect x="1596.5" y="2872.07" width="25" height="6.25"/><rect x="1552.75" y="2872.07" width="25" height="6.25"/><rect x="1509" y="2872.07" width="25" height="6.25"/><rect x="1465.25" y="2872.07" width="25" height="6.25"/><rect x="1421.5" y="2872.07" width="25" height="6.25"/><rect x="1377.75" y="2872.07" width="25" height="6.25"/><rect x="1334" y="2872.07" width="25" height="6.25"/><rect x="1290.25" y="2872.07" width="25" height="6.25"/><rect x="1254.8" y="2872.07" width="16.7" height="6.25"/></g>
<text x="750.6" y="1680" text-anchor="middle">Phân tích tĩnh</text>
<text x="1612.4" y="1676.4" text-anchor="middle">Phân tích động lực</text>
<text x="1612" y="1734.9" text-anchor="middle">Phân tích kháng chấn</text>
<rect x="448.6" y="1762.2" width="600.1" height="222.8" rx="37.13" ry="37.13" fill="url(#gb)" stroke="#4f81bd" stroke-width="3.3" filter="url(#sh)"/>
<text x="748" y="1836" text-anchor="middle">Cọc</text>
<text x="490.5" y="1892.4">- Phản lực đầu cọc bất lợi</text>
<text x="490.5" y="1950.4">- Nội lực cọc bất lợi</text>
<rect x="448.1" y="2044.2" width="602.6" height="233.8" rx="38.97" ry="38.97" fill="url(#gb)" stroke="#4f81bd" stroke-width="3.3" filter="url(#sh)"/>
<text x="748.4" y="2120" text-anchor="middle">Đài cọc</text>
<text x="490.5" y="2177.2">- Chuyển vị bất lợi nhất</text>
<text x="490.5" y="2235.6">- Nội lực bất lợi trong đài</text>
<rect x="451" y="2335.4" width="603.7" height="190.2" rx="31.7" ry="31.7" fill="url(#gb)" stroke="#4f81bd" stroke-width="3.3" filter="url(#sh)"/>
<text x="753.2" y="2419.6" text-anchor="middle">Thân trụ</text>
<text x="491.7" y="2476.1">- Nội lực bất lợi trong cột</text>
<rect x="438.7" y="2582.9" width="627.6" height="234" rx="39" ry="39" fill="url(#gb)" stroke="#4f81bd" stroke-width="3.3" filter="url(#sh)"/>
<text x="752.1" y="2659.8" text-anchor="middle">Dầm mũ</text>
<text x="482.4" y="2715.9">- Chuyển vị bất lợi nhất</text>
<text x="482.4" y="2774">- Nội lực bất lợi trong dầm</text>
<rect x="1309.3" y="1773.2" width="601.4" height="223.7" rx="37.28" ry="37.28" fill="url(#gp)" stroke="#8064a2" stroke-width="3.3" filter="url(#sh)"/>
<text x="1609" y="1847.7" text-anchor="middle">Cọc</text>
<text x="1351.7" y="1904.2">- Phản lực đầu cọc bất lợi</text>
<text x="1351.7" y="1961.8">- Nội lực cọc bất lợi</text>
<rect x="1310.2" y="2086.9" width="603.7" height="171.3" rx="28.55" ry="28.55" fill="url(#gp)" stroke="#8064a2" stroke-width="3.3" filter="url(#sh)"/>
<text x="1611.5" y="2157.9" text-anchor="middle">Đài cọc</text>
<text x="1350.5" y="2215.1">- Chuyển vị bất lợi nhất</text>
<rect x="1313.4" y="2351" width="603.4" height="172.5" rx="28.75" ry="28.75" fill="url(#gp)" stroke="#8064a2" stroke-width="3.3" filter="url(#sh)"/>
<text x="1615.5" y="2422.7" text-anchor="middle">Thân trụ</text>
<text x="1353.3" y="2480">- Nội lực bất lợi trong cột</text>
<rect x="1313.4" y="2617.4" width="603.4" height="172.1" rx="28.68" ry="28.68" fill="url(#gp)" stroke="#8064a2" stroke-width="3.3" filter="url(#sh)"/>
<text x="1615.5" y="2688" text-anchor="middle">Dầm mũ</text>
<text x="1353.3" y="2745.2">- Chuyển vị bất lợi nhất</text>
<g filter="url(#ash)">
<path d="M1611.7 2892.3 V3031.1 H590" fill="none" stroke="#8064a2" stroke-width="12.3" stroke-linejoin="miter"/>
<path d="M620.8 3009.1 L583 3031.1 L620.8 3053.1" fill="none" stroke="#8064a2" stroke-width="12.6" stroke-linecap="round" stroke-linejoin="miter" stroke-miterlimit="10"/>
</g>
<g filter="url(#ash)">
<path d="M753.3 2896.5 V3031 M744.6 3030.7 H1173.2" fill="none" stroke="#4f81bd" stroke-width="12.4" stroke-linecap="butt"/>
</g>
<g filter="url(#ash)" stroke="#4f81bd" fill="none" stroke-width="12.6">
<path d="M1173.2 3024.6 V3129.18" stroke-linecap="butt"/>
<path d="M1151 3097.7 L1173.2 3135.18 L1195.4 3097.7" stroke-linecap="round" stroke-linejoin="miter" stroke-miterlimit="10"/>
</g>
<rect x="198.9" y="2978.9" width="353.9" height="102.5" rx="17.08" ry="17.08" fill="url(#gp)" stroke="#8064a2" stroke-width="3.3" filter="url(#sh)"/>
<text x="375.6" y="3046.9" text-anchor="middle">Tính cọc đơn</text>
<rect x="810.4" y="3158.4" width="727.9" height="161" rx="26.83" ry="26.83" fill="url(#gb)" stroke="#4f81bd" stroke-width="3.3" filter="url(#sh)"/>
<text x="1174.6" y="3228.7" text-anchor="middle">Phân tích đánh giá kết quả</text>
<text x="1175.3" y="3285.5" text-anchor="middle">Tối ưu hóa kết cấu</text>
</svg></body></html>
